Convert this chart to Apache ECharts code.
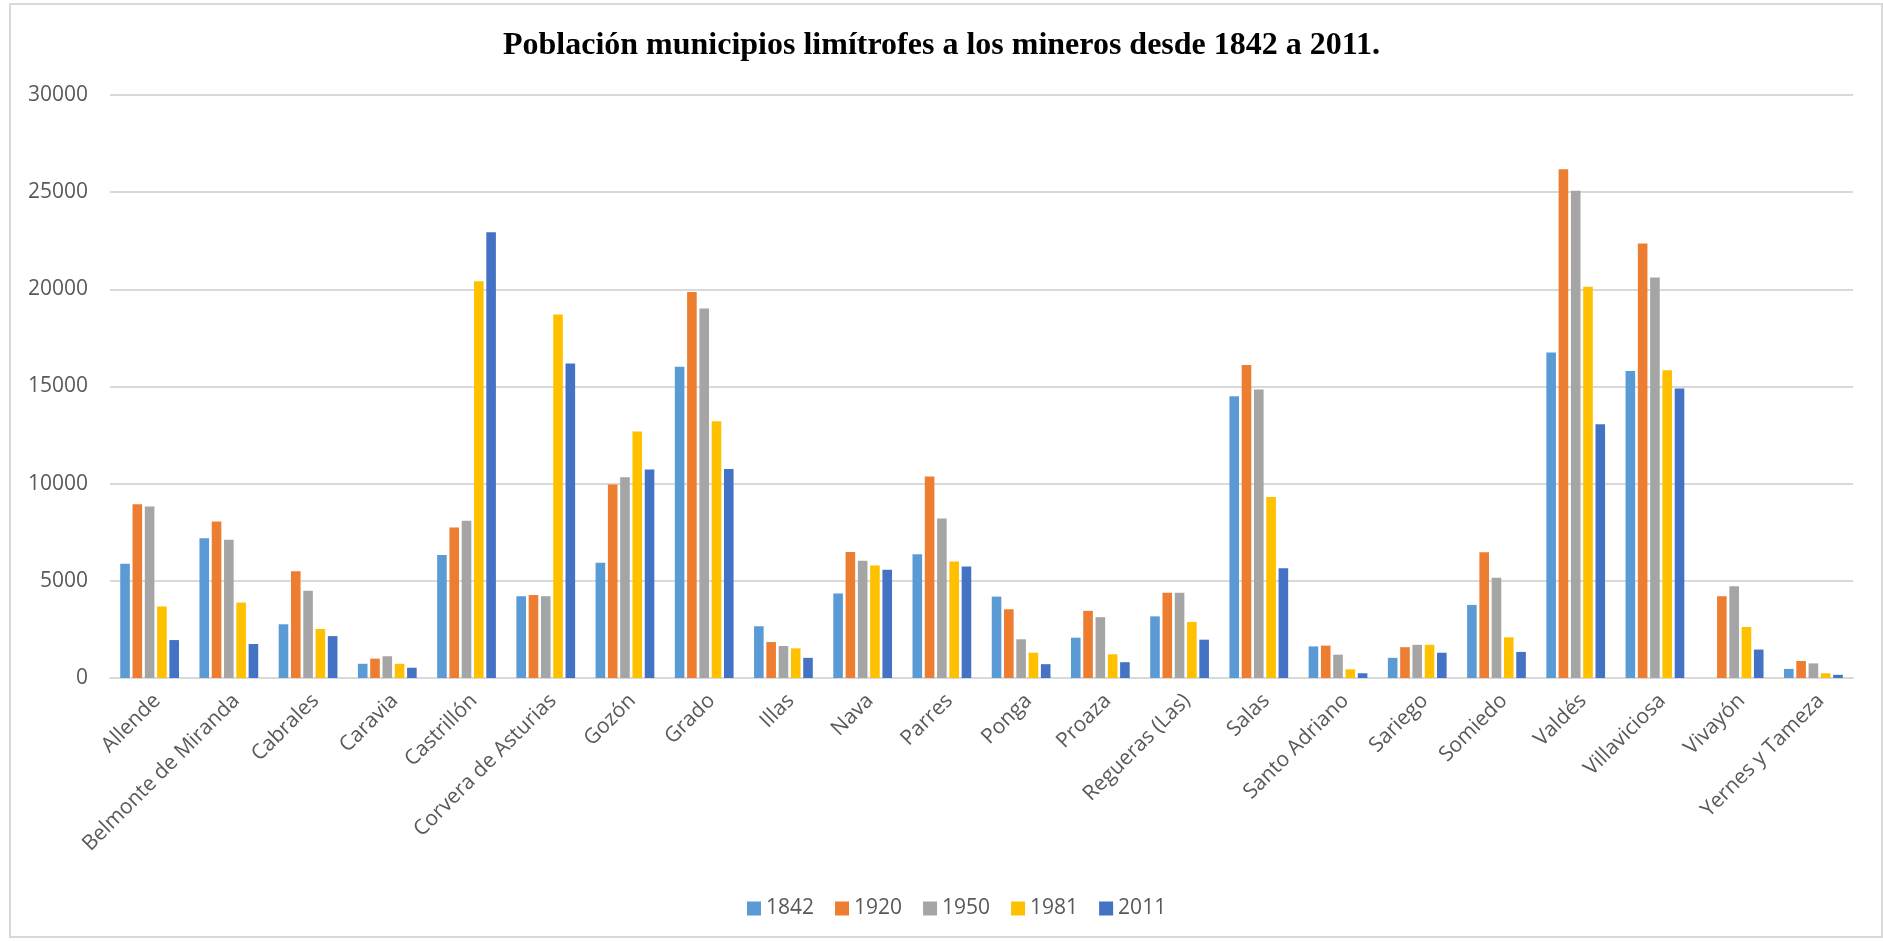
<!DOCTYPE html>
<html>
<head>
<meta charset="utf-8">
<script src="https://cdn.jsdelivr.net/npm/echarts@6/dist/echarts.min.js"></script>
<style>
html,body{margin:0;padding:0;background:#fff;}
#chart{width:1883px;height:941px;}
</style>
</head>
<body>
<div id="chart"></div>
<script>
const titleText = 'Población municipios limítrofes a los mineros desde 1842 a 2011.';
const categories = ['Allende','Belmonte de Miranda','Cabrales','Caravia','Castrillón','Corvera de Asturias','Gozón','Grado','Illas','Nava','Parres','Ponga','Proaza','Regueras (Las)','Salas','Santo Adriano','Sariego','Somiedo','Valdés','Villaviciosa','Vivayón','Yernes y Tameza'];
const seriesNames = ['1842','1920','1950','1981','2011'];
const v1842 = [5875,7197,2765,732,6323,4208,5936,16020,2663,4351,6363,4188,2074,3171,14495,1626,1037,3761,16752,15796,null,468];
const v1920 = [8946,8051,5489,996,7746,4269,9962,19862,1850,6485,10368,3537,3456,4391,16101,1667,1586,6465,26185,22363,4208,874];
const v1950 = [8823,7116,4493,1118,8091,4208,10328,19009,1647,6038,8213,1992,3131,4391,14841,1199,1708,5164,25067,20615,4717,752];
const v1981 = [3680,3883,2521,732,20411,18704,12686,13215,1525,5794,5997,1301,1220,2887,9311,447,1708,2094,20127,15837,2623,244];
const v2011 = [1952,1748,2155,529,22932,16183,10734,10755,1037,5570,5733,712,813,1972,5652,244,1301,1342,13052,14902,1464,163];
const colors = ['#5B9BD5','#ED7D31','#A5A5A5','#FFC000','#4472C4'];
const yMin = 0, yMax = 30000, yStep = 5000;

const allValues = [v1842, v1920, v1950, v1981, v2011];
const chart = echarts.init(document.getElementById('chart'), null, {renderer:'canvas'});
const font = '"Open Sans", "Noto Sans", sans-serif';
chart.setOption({
  animation: false,
  backgroundColor: '#fff',
  color: colors,
  title: {
    text: titleText,
    left: 'center',
    top: 25,
    textStyle: {fontFamily: '"Liberation Serif", "Times New Roman", serif', fontWeight: 'bold', fontSize: 32, color: '#000'}
  },
  legend: {
    data: seriesNames,
    left: 742,
    top: 893,
    itemWidth: 14,
    itemHeight: 14,
    itemGap: 21,
    icon: 'rect',
    textStyle: {fontFamily: font, fontSize: 21, color: '#595959'}
  },
  grid: {left: 110, right: 30, top: 95, bottom: 263, containLabel: false},
  xAxis: {
    type: 'category',
    data: categories,
    axisLine: {show: true, lineStyle: {color: '#d9d9d9', width: 2}},
    axisTick: {show: false},
    axisLabel: {rotate: 45, interval: 0, margin: 12, verticalAlign: 'top', fontFamily: font, fontSize: 21, color: '#595959'}
  },
  yAxis: {
    type: 'value',
    min: yMin, max: yMax, interval: yStep,
    axisLine: {show: false},
    axisTick: {show: false},
    splitLine: {lineStyle: {color: '#d9d9d9', width: 2}},
    axisLabel: {margin: 22, fontFamily: font, fontSize: 21, color: '#595959', formatter: v => String(v)}
  },
  series: seriesNames.map((n, i) => ({
    name: n,
    type: 'bar',
    data: allValues[i],
    barWidth: 9.6,
    barGap: '28%',
    itemStyle: {color: colors[i]}
  })),
  graphic: [{
    type: 'rect',
    shape: {x: 10, y: 4, width: 1872, height: 933},
    style: {fill: 'none', stroke: '#d9d9d9', lineWidth: 2},
    silent: true
  }]
});
</script>
</body>
</html>
